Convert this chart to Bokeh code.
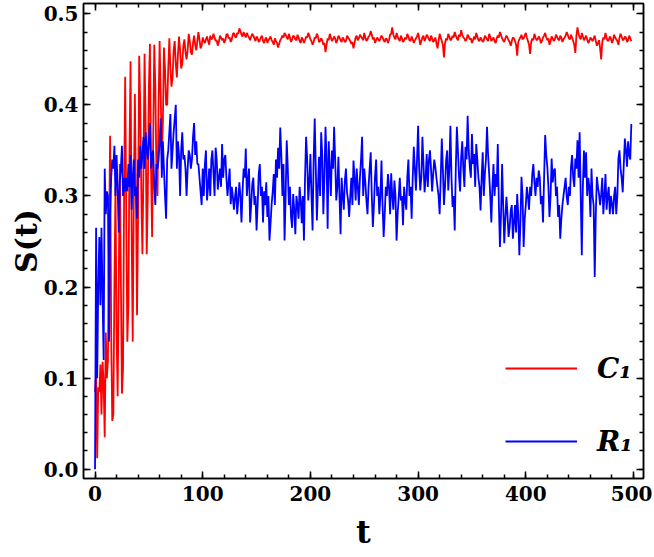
from bokeh.plotting import figure
from bokeh.models import (FixedTicker, LinearAxis, Range1d, Legend, LegendItem,
                          NumeralTickFormatter, CustomJSTickFormatter)
from bokeh.embed import file_html
from bokeh.resources import INLINE

# S(t) values, one per time step t = 0, 1, 2, ...
red = [
    # t = 0 .. 100
    0.085, 0.105, 0.012, 0.090, 0.085, 0.115, 0.060, 0.118, 0.095, 0.035,
    0.150, 0.100, 0.120, 0.250, 0.366, 0.150, 0.053, 0.060, 0.200, 0.310,
    0.150, 0.080, 0.200, 0.335, 0.210, 0.083, 0.110, 0.300, 0.431, 0.280,
    0.140, 0.180, 0.350, 0.448, 0.260, 0.140, 0.300, 0.412, 0.300, 0.169,
    0.280, 0.454, 0.400, 0.300, 0.236, 0.330, 0.456, 0.380, 0.236, 0.300,
    0.420, 0.467, 0.330, 0.255, 0.360, 0.466, 0.420, 0.330, 0.300, 0.400,
    0.470, 0.410, 0.345, 0.380, 0.463, 0.440, 0.400, 0.400, 0.440, 0.473,
    0.440, 0.420, 0.430, 0.460, 0.470, 0.445, 0.430, 0.455, 0.475, 0.460,
    0.440, 0.445, 0.465, 0.472, 0.458, 0.450, 0.460, 0.478, 0.470, 0.458,
    0.455, 0.468, 0.476, 0.466, 0.460, 0.470, 0.480, 0.472, 0.462, 0.465,
    0.474,
    # t = 101 .. 498
    0.470, 0.468, 0.472, 0.475, 0.470, 0.466, 0.476, 0.472, 0.473, 0.478, 0.474, 0.470, 0.471, 0.465, 0.469, 0.476, 0.474, 0.471, 0.473, 0.468,
    0.471, 0.477, 0.478, 0.473, 0.474, 0.469, 0.472, 0.478, 0.479, 0.475, 0.474, 0.479, 0.478, 0.484, 0.481, 0.477, 0.475, 0.480, 0.477, 0.474,
    0.479, 0.476, 0.474, 0.471, 0.475, 0.478, 0.476, 0.473, 0.470, 0.475, 0.473, 0.469, 0.471, 0.474, 0.476, 0.470, 0.468, 0.472, 0.474, 0.468,
    0.471, 0.473, 0.475, 0.471, 0.469, 0.466, 0.473, 0.470, 0.468, 0.463, 0.467, 0.471, 0.473, 0.476, 0.474, 0.479, 0.477, 0.474, 0.472, 0.478,
    0.474, 0.469, 0.472, 0.476, 0.475, 0.472, 0.471, 0.477, 0.474, 0.470, 0.468, 0.474, 0.472, 0.468, 0.471, 0.475, 0.474, 0.479, 0.476, 0.472,
    0.470, 0.466, 0.469, 0.474, 0.473, 0.478, 0.475, 0.469, 0.470, 0.473, 0.471, 0.466, 0.468, 0.458, 0.466, 0.473, 0.471, 0.478, 0.474, 0.470,
    0.472, 0.475, 0.473, 0.468, 0.471, 0.476, 0.474, 0.471, 0.469, 0.474, 0.472, 0.469, 0.470, 0.476, 0.474, 0.472, 0.470, 0.467, 0.469, 0.462,
    0.468, 0.474, 0.476, 0.471, 0.473, 0.477, 0.475, 0.473, 0.471, 0.479, 0.474, 0.470, 0.472, 0.475, 0.476, 0.481, 0.477, 0.472, 0.474, 0.468,
    0.471, 0.474, 0.472, 0.470, 0.473, 0.476, 0.474, 0.471, 0.469, 0.473, 0.472, 0.468, 0.471, 0.477, 0.478, 0.485, 0.477, 0.474, 0.472, 0.479,
    0.475, 0.472, 0.470, 0.476, 0.473, 0.469, 0.471, 0.474, 0.472, 0.478, 0.475, 0.471, 0.470, 0.475, 0.472, 0.468, 0.471, 0.473, 0.475, 0.479,
    0.473, 0.466, 0.470, 0.474, 0.476, 0.470, 0.473, 0.477, 0.475, 0.472, 0.470, 0.476, 0.473, 0.469, 0.471, 0.474, 0.468, 0.462, 0.470, 0.478,
    0.474, 0.470, 0.466, 0.452, 0.468, 0.473, 0.471, 0.478, 0.475, 0.471, 0.472, 0.476, 0.474, 0.480, 0.476, 0.473, 0.471, 0.477, 0.475, 0.482,
    0.477, 0.474, 0.473, 0.470, 0.472, 0.477, 0.475, 0.472, 0.473, 0.468, 0.471, 0.475, 0.472, 0.479, 0.475, 0.471, 0.470, 0.474, 0.472, 0.469,
    0.471, 0.476, 0.474, 0.472, 0.470, 0.478, 0.475, 0.470, 0.472, 0.474, 0.470, 0.468, 0.473, 0.476, 0.474, 0.480, 0.477, 0.473, 0.471, 0.469,
    0.473, 0.476, 0.474, 0.471, 0.469, 0.465, 0.470, 0.474, 0.473, 0.470, 0.466, 0.454, 0.469, 0.472, 0.474, 0.477, 0.472, 0.473, 0.476, 0.479,
    0.474, 0.470, 0.466, 0.456, 0.469, 0.473, 0.471, 0.478, 0.474, 0.471, 0.472, 0.475, 0.473, 0.468, 0.470, 0.474, 0.476, 0.479, 0.474, 0.471,
    0.473, 0.466, 0.470, 0.475, 0.473, 0.470, 0.472, 0.477, 0.475, 0.472, 0.471, 0.476, 0.474, 0.469, 0.472, 0.474, 0.476, 0.480, 0.477, 0.473,
    0.472, 0.477, 0.474, 0.470, 0.466, 0.457, 0.476, 0.485, 0.478, 0.474, 0.472, 0.479, 0.475, 0.471, 0.473, 0.476, 0.472, 0.468, 0.470, 0.474,
    0.472, 0.470, 0.473, 0.476, 0.470, 0.465, 0.468, 0.471, 0.462, 0.450, 0.469, 0.474, 0.472, 0.479, 0.474, 0.470, 0.471, 0.475, 0.473, 0.468,
    0.471, 0.477, 0.474, 0.472, 0.470, 0.466, 0.474, 0.478, 0.475, 0.471, 0.472, 0.475, 0.474, 0.469, 0.471, 0.476, 0.473, 0.470,
]
blue = [
    # t = 0 .. 100
    0.000, 0.265, 0.100, 0.200, 0.255, 0.180, 0.265, 0.190, 0.120, 0.330,
    0.280, 0.305, 0.300, 0.140, 0.280, 0.320, 0.340, 0.330, 0.355, 0.300,
    0.345, 0.310, 0.260, 0.315, 0.330, 0.355, 0.300, 0.320, 0.305, 0.320,
    0.305, 0.335, 0.310, 0.345, 0.285, 0.320, 0.340, 0.300, 0.310, 0.275,
    0.340, 0.320, 0.355, 0.330, 0.345, 0.365, 0.330, 0.370, 0.350, 0.340,
    0.360, 0.380, 0.330, 0.345, 0.350, 0.310, 0.290, 0.335, 0.330, 0.340,
    0.360, 0.385, 0.320, 0.360, 0.330, 0.300, 0.275, 0.340, 0.350, 0.370,
    0.390, 0.330, 0.350, 0.370, 0.385, 0.400, 0.330, 0.360, 0.345, 0.300,
    0.350, 0.370, 0.340, 0.345, 0.330, 0.300, 0.330, 0.350, 0.345, 0.330,
    0.340, 0.365, 0.380, 0.345, 0.360, 0.335, 0.335, 0.320, 0.305, 0.290,
    0.330,
    # t = 101 .. 498
    0.300, 0.335, 0.350, 0.295, 0.310, 0.330, 0.300, 0.340, 0.350, 0.325, 0.300, 0.353, 0.340, 0.307, 0.320, 0.330, 0.310, 0.357, 0.320, 0.340,
    0.345, 0.320, 0.300, 0.315, 0.330, 0.291, 0.310, 0.299, 0.285, 0.299, 0.310, 0.280, 0.295, 0.315, 0.300, 0.271, 0.305, 0.330, 0.320, 0.352,
    0.300, 0.317, 0.330, 0.271, 0.290, 0.313, 0.320, 0.290, 0.300, 0.262, 0.290, 0.324, 0.335, 0.300, 0.310, 0.271, 0.305, 0.290, 0.315, 0.277,
    0.300, 0.251, 0.270, 0.291, 0.305, 0.324, 0.290, 0.340, 0.320, 0.353, 0.330, 0.375, 0.345, 0.300, 0.335, 0.251, 0.300, 0.361, 0.330, 0.290,
    0.310, 0.277, 0.265, 0.302, 0.285, 0.258, 0.300, 0.290, 0.275, 0.310, 0.295, 0.270, 0.300, 0.251, 0.320, 0.365, 0.340, 0.295, 0.315, 0.346,
    0.300, 0.262, 0.340, 0.385, 0.330, 0.273, 0.310, 0.343, 0.300, 0.370, 0.345, 0.280, 0.320, 0.376, 0.340, 0.264, 0.360, 0.330, 0.300, 0.350,
    0.330, 0.376, 0.340, 0.295, 0.310, 0.343, 0.300, 0.258, 0.320, 0.300, 0.285, 0.317, 0.330, 0.304, 0.295, 0.277, 0.300, 0.320, 0.290, 0.339,
    0.320, 0.295, 0.330, 0.310, 0.290, 0.320, 0.340, 0.365, 0.300, 0.330, 0.315, 0.295, 0.280, 0.310, 0.330, 0.348, 0.300, 0.266, 0.290, 0.321,
    0.340, 0.300, 0.310, 0.280, 0.300, 0.339, 0.290, 0.255, 0.280, 0.310, 0.300, 0.324, 0.310, 0.280, 0.325, 0.300, 0.285, 0.317, 0.300, 0.251,
    0.280, 0.299, 0.320, 0.295, 0.300, 0.268, 0.310, 0.295, 0.285, 0.321, 0.340, 0.300, 0.310, 0.275, 0.320, 0.354, 0.330, 0.306, 0.340, 0.377,
    0.330, 0.306, 0.320, 0.365, 0.335, 0.304, 0.320, 0.346, 0.310, 0.339, 0.350, 0.330, 0.305, 0.324, 0.340, 0.332, 0.320, 0.310, 0.300, 0.280,
    0.320, 0.363, 0.330, 0.290, 0.310, 0.339, 0.350, 0.306, 0.330, 0.377, 0.320, 0.288, 0.300, 0.262, 0.330, 0.376, 0.350, 0.321, 0.305, 0.343,
    0.360, 0.330, 0.310, 0.354, 0.340, 0.388, 0.350, 0.332, 0.320, 0.368, 0.335, 0.346, 0.310, 0.357, 0.340, 0.320, 0.310, 0.284, 0.320, 0.348,
    0.300, 0.324, 0.340, 0.376, 0.345, 0.324, 0.300, 0.271, 0.310, 0.335, 0.300, 0.324, 0.310, 0.357, 0.290, 0.244, 0.280, 0.335, 0.290, 0.248,
    0.275, 0.299, 0.280, 0.255, 0.265, 0.284, 0.290, 0.253, 0.270, 0.290, 0.260, 0.302, 0.280, 0.235, 0.270, 0.321, 0.300, 0.244, 0.275, 0.290,
    0.310, 0.299, 0.285, 0.310, 0.300, 0.324, 0.335, 0.315, 0.300, 0.320, 0.310, 0.328, 0.320, 0.291, 0.300, 0.271, 0.320, 0.367, 0.345, 0.332,
    0.310, 0.277, 0.300, 0.341, 0.315, 0.328, 0.330, 0.300, 0.310, 0.277, 0.290, 0.253, 0.275, 0.290, 0.300, 0.310, 0.320, 0.299, 0.290, 0.310,
    0.300, 0.332, 0.345, 0.320, 0.310, 0.341, 0.330, 0.361, 0.320, 0.370, 0.300, 0.235, 0.310, 0.350, 0.320, 0.348, 0.300, 0.320, 0.310, 0.277,
    0.330, 0.300, 0.290, 0.211, 0.280, 0.321, 0.310, 0.302, 0.290, 0.302, 0.320, 0.280, 0.300, 0.324, 0.285, 0.300, 0.310, 0.280, 0.300, 0.291,
    0.280, 0.300, 0.310, 0.280, 0.300, 0.341, 0.350, 0.330, 0.320, 0.304, 0.335, 0.363, 0.350, 0.332, 0.360, 0.345, 0.340, 0.379,
]
t_red = list(range(len(red)))
t_blue = list(range(len(blue)))

x_major = [0, 100, 200, 300, 400, 500]
x_minor = [v for v in range(-20, 521, 20)]
y_major = [0.0, 0.1, 0.2, 0.3, 0.4, 0.5]
y_minor = [round(0.02 * i, 2) for i in range(-1, 27)]

FONT = "DejaVu Serif"

p = figure(width=652, height=556, output_backend="svg", toolbar_location=None,
           x_range=Range1d(-10.7, 509.3), y_range=Range1d(-0.0102, 0.5113),
           min_border_left=83, min_border_right=9, min_border_top=3, min_border_bottom=78)
p.grid.visible = False
p.outline_line_color = "black"
p.outline_line_width = 1.5
p.background_fill_color = "white"
p.border_fill_color = "white"

r_red = p.line(t_red, red, line_color="#ff0000", line_width=1.8)
r_blue = p.line(t_blue, blue, line_color="#0000ff", line_width=1.8)

xt = FixedTicker(ticks=x_major, minor_ticks=x_minor)
yt = FixedTicker(ticks=y_major, minor_ticks=y_minor)

def style(ax, show_labels):
    ax.axis_line_color = "black"
    ax.axis_line_width = 1.5
    ax.major_tick_line_color = "black"
    ax.major_tick_line_width = 1.5
    ax.minor_tick_line_color = "black"
    ax.minor_tick_line_width = 1.5
    ax.major_tick_in = 7
    ax.major_tick_out = 0
    ax.minor_tick_in = 4
    ax.minor_tick_out = 0
    if show_labels:
        ax.major_label_text_font = FONT
        ax.major_label_text_font_style = "bold"
        ax.major_label_text_font_size = "20px"
        ax.major_label_text_color = "black"
    else:
        ax.formatter = CustomJSTickFormatter(code="return ''")
        ax.major_label_text_font_size = "1px"
        ax.major_label_standoff = 0

xa = p.xaxis[0]
xa.ticker = xt
style(xa, True)
xa.major_label_standoff = 7
xa.axis_label = "t"
xa.axis_label_text_font = FONT
xa.axis_label_text_font_style = "bold"
xa.axis_label_text_font_size = "32px"
xa.axis_label_text_color = "black"
xa.axis_label_standoff = 9

ya = p.yaxis[0]
ya.ticker = yt
ya.formatter = NumeralTickFormatter(format="0.0")
style(ya, True)
ya.major_label_standoff = 5
ya.axis_label = "S(t)"
ya.axis_label_text_font = FONT
ya.axis_label_text_font_style = "bold"
ya.axis_label_text_font_size = "30px"
ya.axis_label_text_color = "black"
ya.axis_label_standoff = -3

top = LinearAxis(ticker=xt)
style(top, False)
p.add_layout(top, "above")
right = LinearAxis(ticker=yt)
style(right, False)
p.add_layout(right, "right")

legend = Legend(items=[LegendItem(label="C\u2081", renderers=[r_red]),
                       LegendItem(label="R\u2081", renderers=[r_blue])],
                location=(422, 19), orientation="vertical",
                glyph_width=72, glyph_height=36, label_height=36,
                spacing=37, padding=0, margin=0, label_standoff=20,
                border_line_color=None, background_fill_alpha=0,
                label_text_font=FONT, label_text_font_style="bold italic",
                label_text_font_size="28px", label_text_color="black")
p.add_layout(legend)

open("out.html", "w").write(file_html(p, INLINE))
